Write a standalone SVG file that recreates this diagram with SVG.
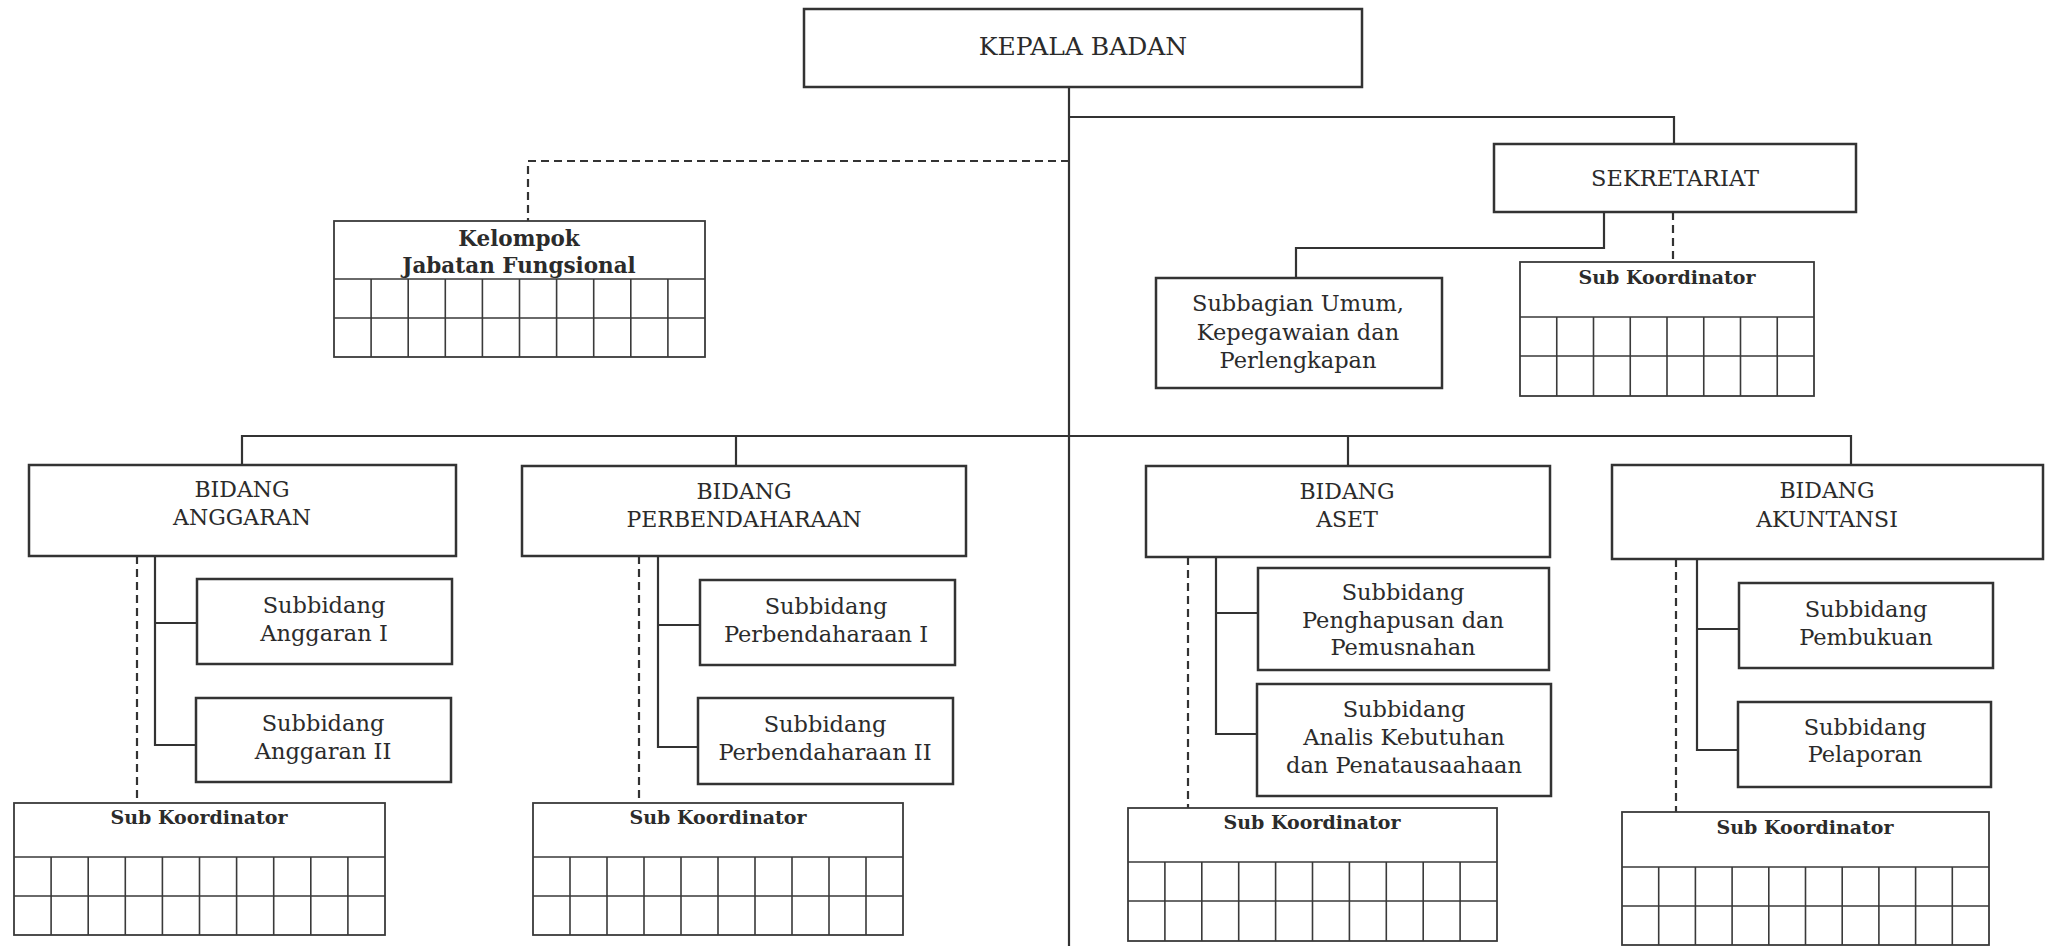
<svg xmlns="http://www.w3.org/2000/svg" width="2049" height="946" viewBox="0 0 2049 946">
<style>
.box{fill:#fff;stroke:#333;stroke-width:2.5}
.grid{fill:none;stroke:#3a3a3a;stroke-width:1.6}
.gbox{fill:#fff;stroke:#3a3a3a;stroke-width:1.8}
.ln{fill:none;stroke:#333;stroke-width:2.2}
.ds{fill:none;stroke:#333;stroke-width:2.2;stroke-dasharray:8 5}
text{font-family:"DejaVu Serif","Liberation Serif",serif;fill:#2b2b2b;text-anchor:middle;dominant-baseline:central}
.t25{font-size:25px}
.t22{font-size:22px}
.t23{font-size:22.5px}
.b{font-weight:bold;font-size:19px}
.bk{font-weight:bold;font-size:21.5px}
</style>
<rect width="2049" height="946" fill="#fff"/>
<g id="connectors">
<path class="ln" d="M1069,87 V946"/>
<path class="ln" d="M1069,117 H1674 V144"/>
<path class="ds" d="M1069,161 H528 V221"/>
<path class="ln" d="M1604,212 V248 H1296 V278"/>
<path class="ds" d="M1673,212 V262"/>
<path class="ln" d="M242,465 V436 H1851 V465"/>
<path class="ln" d="M736,436 V466"/>
<path class="ln" d="M1348,436 V466"/>
<path class="ln" d="M155,556 V745 H196 M155,623 H197"/>
<path class="ds" d="M137,556 V803"/>
<path class="ln" d="M658,556 V747 H698 M658,625 H700"/>
<path class="ds" d="M639,556 V803"/>
<path class="ln" d="M1216,557 V734 H1257 M1216,613 H1258"/>
<path class="ds" d="M1188,557 V808"/>
<path class="ln" d="M1697,559 V750 H1738 M1697,629 H1739"/>
<path class="ds" d="M1676,559 V812"/>
</g>
<g id="kepala">
<rect class="box" x="804" y="9" width="558" height="78"/>
<text class="t25" x="1083" y="46">KEPALA BADAN</text>
</g>
<g id="kelompok">
<rect class="gbox" x="334" y="221" width="371" height="136"/>
<path class="grid" d="M334,279 H705 M334,318 H705 M371.1,279 V357 M408.2,279 V357 M445.3,279 V357 M482.4,279 V357 M519.5,279 V357 M556.6,279 V357 M593.7,279 V357 M630.8,279 V357 M667.9,279 V357"/>
<text class="bk" x="519" y="238">Kelompok</text>
<text class="bk" x="519" y="265">Jabatan Fungsional</text>
</g>
<g id="sekretariat">
<rect class="box" x="1494" y="144" width="362" height="68"/>
<text class="t23" x="1675" y="178">SEKRETARIAT</text>
</g>
<g id="subbagian">
<rect class="box" x="1156" y="278" width="286" height="110"/>
<text class="t23" x="1298" y="303">Subbagian Umum,</text>
<text class="t23" x="1298" y="332">Kepegawaian dan</text>
<text class="t23" x="1298" y="360">Perlengkapan</text>
</g>
<g id="subkoord-sekretariat">
<rect class="gbox" x="1520" y="262" width="294" height="134"/>
<path class="grid" d="M1520,317 H1814 M1520,356 H1814 M1556.75,317 V396 M1593.5,317 V396 M1630.25,317 V396 M1667,317 V396 M1703.75,317 V396 M1740.5,317 V396 M1777.25,317 V396"/>
<text class="b" x="1667" y="277">Sub Koordinator</text>
</g>
<g id="bidang-anggaran">
<rect class="box" x="29" y="465" width="427" height="91"/>
<text class="t22" x="242" y="489">BIDANG</text>
<text class="t22" x="242" y="517">ANGGARAN</text>
</g>
<g id="subbidang-anggaran-1">
<rect class="box" x="197" y="579" width="255" height="85"/>
<text class="t23" x="324" y="605">Subbidang</text>
<text class="t23" x="324" y="633">Anggaran I</text>
</g>
<g id="subbidang-anggaran-2">
<rect class="box" x="196" y="698" width="255" height="84"/>
<text class="t23" x="323" y="723">Subbidang</text>
<text class="t23" x="323" y="751">Anggaran II</text>
</g>
<g id="subkoord-anggaran">
<rect class="gbox" x="14" y="803" width="371" height="132"/>
<path class="grid" d="M14,857 H385 M14,896 H385 M51.1,857 V935 M88.2,857 V935 M125.3,857 V935 M162.4,857 V935 M199.5,857 V935 M236.6,857 V935 M273.7,857 V935 M310.8,857 V935 M347.9,857 V935"/>
<text class="b" x="199" y="817">Sub Koordinator</text>
</g>
<g id="bidang-perbendaharaan">
<rect class="box" x="522" y="466" width="444" height="90"/>
<text class="t22" x="744" y="491">BIDANG</text>
<text class="t22" x="744" y="519">PERBENDAHARAAN</text>
</g>
<g id="subbidang-perbendaharaan-1">
<rect class="box" x="700" y="580" width="255" height="85"/>
<text class="t23" x="826" y="606">Subbidang</text>
<text class="t23" x="826" y="634">Perbendaharaan I</text>
</g>
<g id="subbidang-perbendaharaan-2">
<rect class="box" x="698" y="698" width="255" height="86"/>
<text class="t23" x="825" y="724">Subbidang</text>
<text class="t23" x="825" y="752">Perbendaharaan II</text>
</g>
<g id="subkoord-perbendaharaan">
<rect class="gbox" x="533" y="803" width="370" height="132"/>
<path class="grid" d="M533,857 H903 M533,896 H903 M570,857 V935 M607,857 V935 M644,857 V935 M681,857 V935 M718,857 V935 M755,857 V935 M792,857 V935 M829,857 V935 M866,857 V935"/>
<text class="b" x="718" y="817">Sub Koordinator</text>
</g>
<g id="bidang-aset">
<rect class="box" x="1146" y="466" width="404" height="91"/>
<text class="t22" x="1347" y="491">BIDANG</text>
<text class="t22" x="1347" y="519">ASET</text>
</g>
<g id="subbidang-penghapusan">
<rect class="box" x="1258" y="568" width="291" height="102"/>
<text class="t23" x="1403" y="592">Subbidang</text>
<text class="t23" x="1403" y="620">Penghapusan dan</text>
<text class="t23" x="1403" y="647">Pemusnahan</text>
</g>
<g id="subbidang-analis">
<rect class="box" x="1257" y="684" width="294" height="112"/>
<text class="t23" x="1404" y="709">Subbidang</text>
<text class="t23" x="1404" y="737">Analis Kebutuhan</text>
<text class="t23" x="1404" y="765">dan Penatausaahaan</text>
</g>
<g id="subkoord-aset">
<rect class="gbox" x="1128" y="808" width="369" height="133"/>
<path class="grid" d="M1128,862 H1497 M1128,901 H1497 M1164.9,862 V941 M1201.8,862 V941 M1238.7,862 V941 M1275.6,862 V941 M1312.5,862 V941 M1349.4,862 V941 M1386.3,862 V941 M1423.2,862 V941 M1460.1,862 V941"/>
<text class="b" x="1312" y="822">Sub Koordinator</text>
</g>
<g id="bidang-akuntansi">
<rect class="box" x="1612" y="465" width="431" height="94"/>
<text class="t22" x="1827" y="490">BIDANG</text>
<text class="t22" x="1827" y="519">AKUNTANSI</text>
</g>
<g id="subbidang-pembukuan">
<rect class="box" x="1739" y="583" width="254" height="85"/>
<text class="t23" x="1866" y="609">Subbidang</text>
<text class="t23" x="1866" y="637">Pembukuan</text>
</g>
<g id="subbidang-pelaporan">
<rect class="box" x="1738" y="702" width="253" height="85"/>
<text class="t23" x="1865" y="727">Subbidang</text>
<text class="t23" x="1865" y="754">Pelaporan</text>
</g>
<g id="subkoord-akuntansi">
<rect class="gbox" x="1622" y="812" width="367" height="133"/>
<path class="grid" d="M1622,867 H1989 M1622,906 H1989 M1658.7,867 V945 M1695.4,867 V945 M1732.1,867 V945 M1768.8,867 V945 M1805.5,867 V945 M1842.2,867 V945 M1878.9,867 V945 M1915.6,867 V945 M1952.3,867 V945"/>
<text class="b" x="1805" y="827">Sub Koordinator</text>
</g>
</svg>
